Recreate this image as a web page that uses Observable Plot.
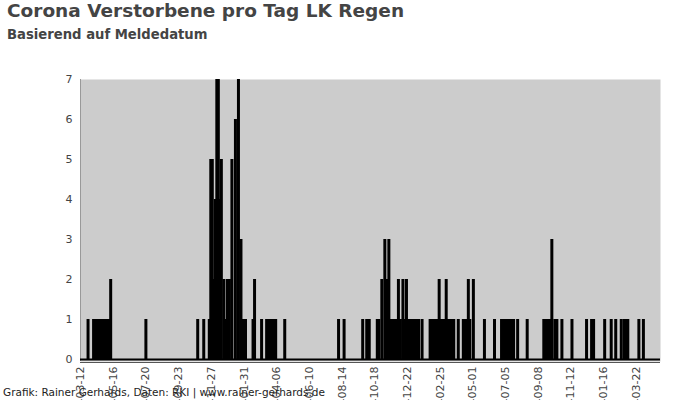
<!DOCTYPE html>
<html>
<head>
<meta charset="utf-8">
<script src="https://cdn.jsdelivr.net/npm/d3@7"></script>
<script src="https://cdn.jsdelivr.net/npm/@observablehq/plot@0.6"></script>
<style>
  html, body { margin: 0; padding: 0; background: #fff; overflow: hidden; }
  body { width: 700px; height: 400px; position: relative; font-family: "DejaVu Sans", sans-serif; }
  #title { position: absolute; left: 7px; top: 2px; font-size: 18.5px; font-weight: bold; color: #444; line-height: 1; white-space: nowrap; z-index: 2; }
  #subtitle { position: absolute; left: 7px; top: 28px; font-size: 13.2px; font-weight: bold; color: #444; line-height: 1; white-space: nowrap; z-index: 2; }
  #chart { position: absolute; left: 0; top: 0; }
  #caption { position: absolute; left: 3px; top: 387px; font-size: 10.5px; color: #222; line-height: 1; white-space: nowrap; z-index: 2; }
</style>
</head>
<body>
<div id="title">Corona Verstorbene pro Tag LK Regen</div>
<div id="subtitle">Basierend auf Meldedatum</div>
<div id="chart"></div>
<div id="caption">Grafik: Rainer Gerhards, Daten: RKI | www.rainer-gerhards.de</div>
<script>
// Days with reported deaths (all other days: 0)
const dates = [
  "2020-03-27","2020-04-07","2020-04-10","2020-04-13","2020-04-16","2020-04-19","2020-04-22","2020-04-25","2020-04-28","2020-05-01","2020-05-04","2020-05-07","2020-05-11",
  "2020-07-20",
  "2020-10-31","2020-11-12","2020-11-23","2020-11-26","2020-11-29","2020-12-02","2020-12-05","2020-12-08","2020-12-11","2020-12-14","2020-12-17","2020-12-22","2020-12-25","2020-12-29","2021-01-02","2021-01-07","2021-01-14","2021-01-20","2021-01-25","2021-01-28","2021-01-31","2021-02-03",
  "2021-02-18","2021-02-21","2021-03-07","2021-03-17","2021-03-20","2021-03-23","2021-03-26","2021-03-29","2021-04-01","2021-04-04","2021-04-22",
  "2021-08-07","2021-08-18","2021-09-24","2021-10-02","2021-10-07","2021-10-23","2021-10-26",
  "2021-11-01","2021-11-07","2021-11-11","2021-11-15","2021-11-19","2021-11-22","2021-11-25","2021-11-28","2021-12-01","2021-12-04","2021-12-08","2021-12-13","2021-12-16","2021-12-20","2021-12-23","2021-12-26","2021-12-29",
  "2022-01-01","2022-01-04","2022-01-07","2022-01-10","2022-01-13","2022-01-20",
  "2022-02-05","2022-02-08","2022-02-11","2022-02-14","2022-02-17","2022-02-20","2022-02-23","2022-02-26",
  "2022-03-01","2022-03-04","2022-03-07","2022-03-09","2022-03-12","2022-03-15","2022-03-18","2022-03-21","2022-03-24",
  "2022-04-02","2022-04-12","2022-04-15","2022-04-18","2022-04-22","2022-04-25","2022-05-02","2022-05-24","2022-06-13",
  "2022-06-27","2022-06-30","2022-07-03","2022-07-06","2022-07-09","2022-07-12","2022-07-15","2022-07-18","2022-07-21","2022-07-29","2022-08-17",
  "2022-09-19","2022-09-22","2022-09-25","2022-09-28","2022-10-01","2022-10-05","2022-10-11","2022-10-15","2022-10-25","2022-11-14",
  "2022-12-13","2022-12-23","2022-12-27","2023-01-18","2023-01-31","2023-02-09","2023-02-20","2023-02-26","2023-03-02","2023-03-05","2023-03-27","2023-04-05"
];
const deaths = [
  1,1,1,1,1,1,1,1,1,1,1,1,2,
  1,
  1,1,1,5,5,2,4,7,7,4,5,2,1,2,2,5,6,7,3,1,1,1,
  1,2,1,1,1,1,1,1,1,1,1,
  1,1,1,1,1,1,1,
  2,3,2,3,1,1,1,1,1,2,1,2,1,2,1,1,1,
  1,1,1,1,1,1,
  1,1,1,1,1,1,2,1,
  1,1,1,2,1,1,1,1,1,
  1,1,1,1,2,1,2,1,1,
  1,1,1,1,1,1,1,1,1,1,1,
  1,1,1,1,1,3,1,1,1,1,
  1,1,1,1,1,1,1,1,1,1,1,1
];
const xDomain = ["2020-03-12", "2023-05-09"];
const xTicks = ["2020-03-12","2020-05-16","2020-07-20","2020-09-23","2020-11-27","2021-01-31","2021-04-06","2021-06-10","2021-08-14","2021-10-18","2021-12-22","2022-02-25","2022-05-01","2022-07-05","2022-09-08","2022-11-12","2023-01-16","2023-03-22"];
const yTicks = [0, 1, 2, 3, 4, 5, 6, 7];

const rows = dates.map((d, i) => ({date: new Date(d), value: deaths[i]}));
const domain = xDomain.map(d => new Date(d));

const chart = Plot.plot({
  width: 700,
  height: 440,
  marginTop: 79,
  marginBottom: 79,
  marginLeft: 80,
  marginRight: 40,
  style: {fontFamily: "DejaVu Sans", fontSize: "11px", color: "#444", background: "transparent", overflow: "visible"},
  x: {type: "utc", domain, ticks: xTicks.map(d => new Date(d)), tickFormat: d3.utcFormat("%Y-%m-%d"), tickRotate: -90, tickSize: 0, tickPadding: 5, label: null},
  y: {domain: [0, 7], ticks: yTicks, tickFormat: d3.format("d"), tickSize: 0, tickPadding: 8, insetBottom: 2, label: null},
  marks: [
    Plot.frame({fill: "#cccccc", stroke: null}),
    Plot.ruleX([domain[0]], {stroke: "#999", strokeWidth: 1}),
    Plot.ruleX(rows, {x: "date", y1: 0, y2: "value", stroke: "black", strokeWidth: 3}),
    Plot.ruleY([0], {stroke: "black", strokeWidth: 2}),
    Plot.ruleY([0], {dy: 3, stroke: "#555", strokeWidth: 1})
  ]
});
document.getElementById("chart").appendChild(chart);
</script>
</body>
</html>
